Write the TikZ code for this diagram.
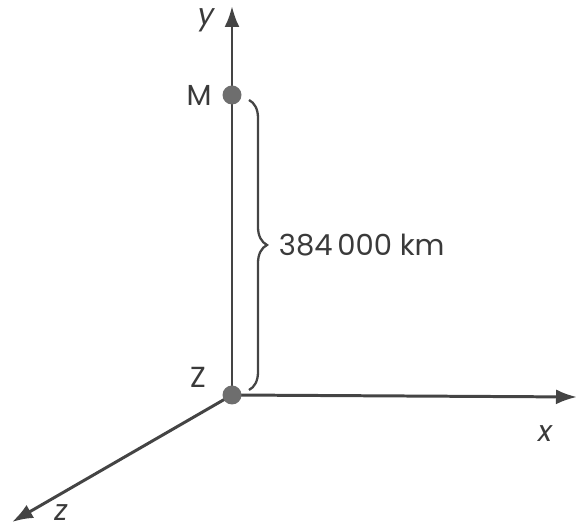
\documentclass[tikz,border=0pt]{standalone}
\usepackage{fontspec}
\setmainfont{Poppins}
\usetikzlibrary{arrows.meta, decorations.pathreplacing, positioning}
\definecolor{axisgray}{HTML}{444444}
\definecolor{dotgray}{HTML}{6e6e6e}
\begin{document}
\begin{tikzpicture}[x=0.02cm, y=0.02cm,
        axis/.style={line width=1.7pt, draw=axisgray, -{Latex[length=0.42cm, width=0.3cm]}},
        pt/.style={circle, fill=dotgray, inner sep=0pt, minimum size=0.38cm},
        lbl/.style={text=axisgray!85!black, font=\fontsize{16.5}{19}\selectfont}]
            \useasboundingbox (0, 0) rectangle (578, 530);
            \coordinate (O) at (232, 135);
            \coordinate (ytip) at (232, 524);
            \coordinate (xtip) at (577, 133);
            \coordinate (ztip) at (12, 8);
            \draw[axis] (O) -- (ytip);
            \draw[axis] (O) -- (xtip);
            \draw[axis] (O) -- (ztip);
            \node[pt] (M) at (232, 435) {};
            \node[pt] (Z) at (O) {};
            \node[lbl] (ylbl) at (206, 510) {\itshape y};
            \node[lbl] (xlbl) at (545, 96) {\itshape x};
            \node[lbl] (zlbl) at (61, 17) {\itshape z};
            \node[lbl] (Mlbl) at (199, 435) {M};
            \node[lbl] (Zlbl) at (198, 153) {Z};
            \coordinate (btop) at (249, 430);
            \coordinate (bbot) at (249, 140);
            \draw[line width=1.3pt, draw=axisgray, decorate,
                  decoration={brace, amplitude=0.36cm}] (btop) -- (bbot)
                node[lbl, midway, anchor=west, xshift=0.46cm] (dist) {384\,000 km};
        \end{tikzpicture}
\end{document}
